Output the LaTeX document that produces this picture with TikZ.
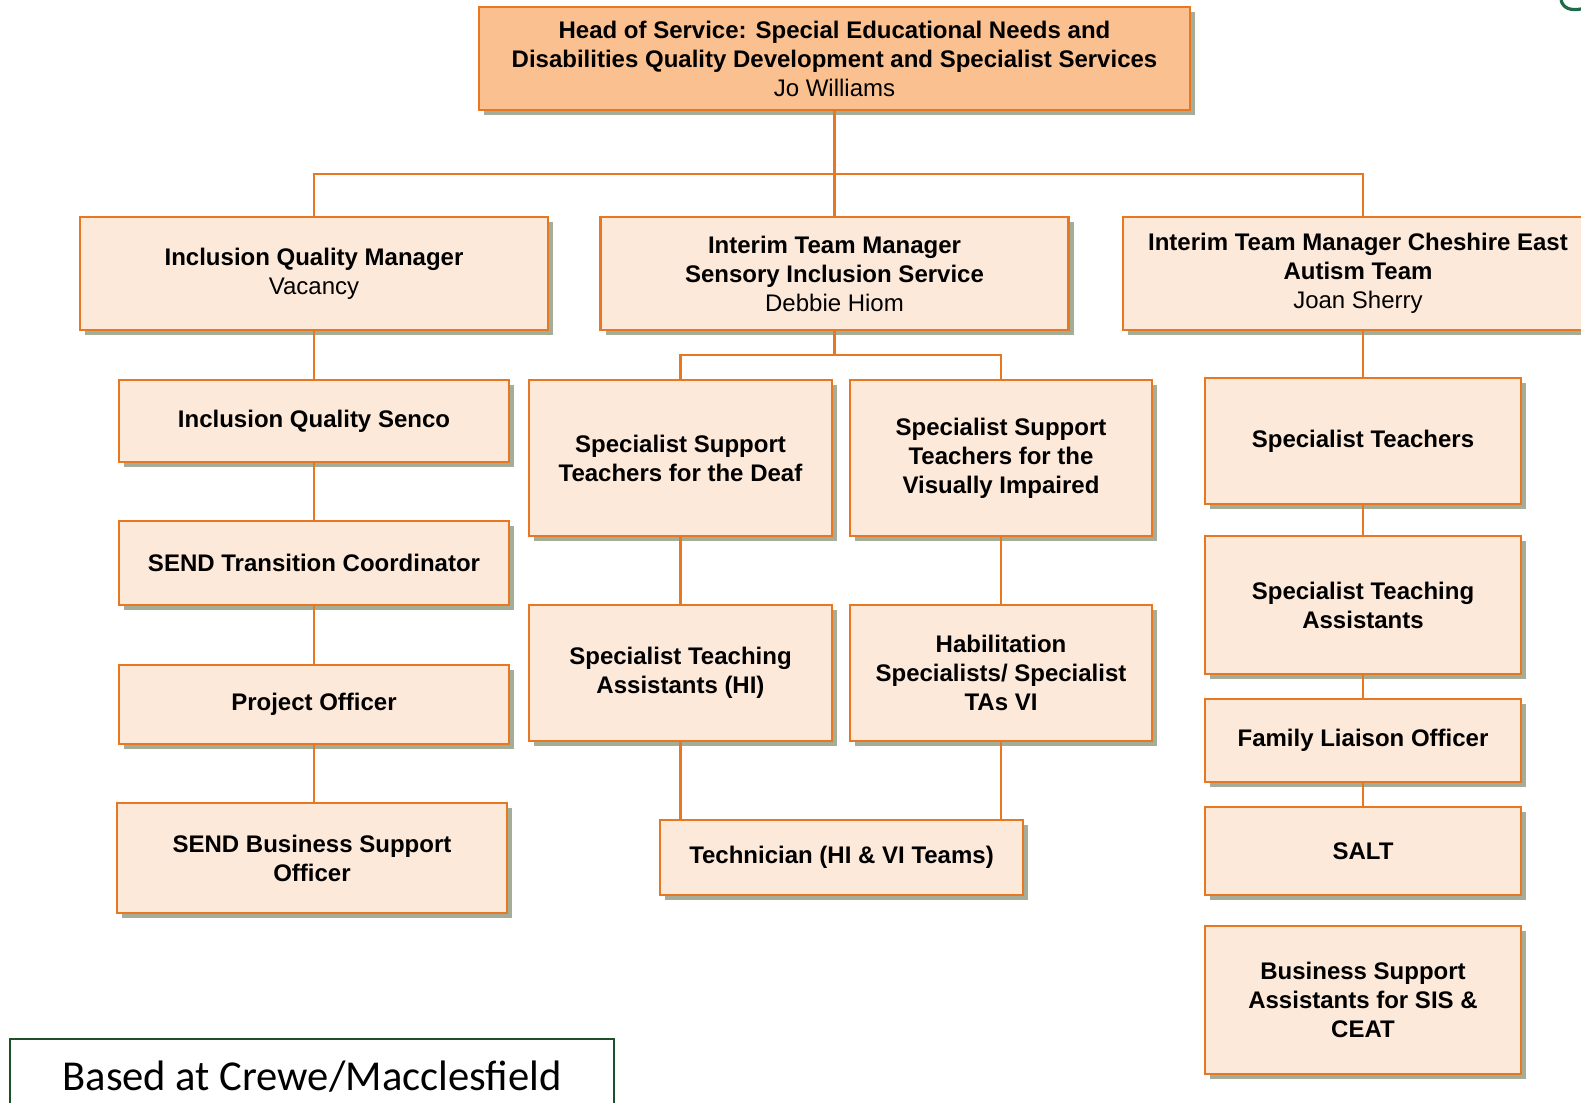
\documentclass[tikz,border=0pt]{standalone}
\usepackage{fontspec}
\newfontfamily\orgfont{Liberation Sans}
\newfontfamily\basedfont{Carlito}
\usetikzlibrary{shadows}
\definecolor{orgline}{HTML}{E87722}
\definecolor{headfill}{HTML}{FAC090}
\definecolor{boxfill}{HTML}{FDE9D9}
\definecolor{shadowgrey}{HTML}{A3AD97}
\definecolor{basedgreen}{HTML}{1F4E2C}
\definecolor{logogreen}{HTML}{1E6B4A}
\begin{document}
\begin{tikzpicture}[x=0.5pt,y=-0.5pt]
		\tikzstyle{orgbox}=[draw=orgline, line width=1.4pt, fill=boxfill, align=center, inner sep=2pt,
			font=\orgfont\fontsize{12}{14.5}\selectfont,
			drop shadow={shadow xshift=2.5pt, shadow yshift=-2.5pt, fill=shadowgrey, opacity=1}]
		\tikzstyle{link}=[draw=orgline, line width=1.1pt]
		\clip (0,0) rectangle (1581,1103);
		\fill [white] (0,0) rectangle (1581,1103);
		\node [orgbox, fill=headfill, minimum width=355.5pt, minimum height=51.5pt] (head) at (834.5,58.5) {\textbf{Head of Service: Special Educational Needs and}\\\textbf{Disabilities Quality Development and Specialist Services}\\Jo Williams};
		\node [orgbox, minimum width=234pt, minimum height=56.5pt] (iqm) at (314,273.5) {\textbf{Inclusion Quality Manager}\\Vacancy};
		\node [orgbox, minimum width=234pt, minimum height=56.5pt] (sis) at (834.5,273.5) {\textbf{Interim Team Manager}\\\textbf{Sensory Inclusion Service}\\Debbie Hiom};
		\node [orgbox, minimum width=235pt, minimum height=56.5pt] (asd) at (1358,273.5) {\textbf{Interim Team Manager Cheshire East}\\\textbf{Autism Team}\\Joan Sherry};
		\node [orgbox, minimum width=195pt, minimum height=41pt] (senco) at (314,421) {\textbf{Inclusion Quality Senco}};
		\node [orgbox, minimum width=195pt, minimum height=42pt] (trans) at (314,563) {\textbf{SEND Transition Coordinator}};
		\node [orgbox, minimum width=195pt, minimum height=39.5pt] (proj) at (314,704.5) {\textbf{Project Officer}};
		\node [orgbox, minimum width=195pt, minimum height=55pt] (bso) at (312,858) {\textbf{SEND Business Support}\\\textbf{Officer}};
		\node [orgbox, minimum width=151.5pt, minimum height=78pt] (deaf) at (680.5,458) {\textbf{Specialist Support}\\\textbf{Teachers for the Deaf}};
		\node [orgbox, minimum width=151pt, minimum height=78pt] (vi) at (1001,458) {\textbf{Specialist Support}\\\textbf{Teachers for the}\\\textbf{Visually Impaired}};
		\node [orgbox, minimum width=151.5pt, minimum height=68pt] (stahi) at (680.5,673) {\textbf{Specialist Teaching}\\\textbf{Assistants (HI)}};
		\node [orgbox, minimum width=151pt, minimum height=68pt] (hab) at (1001,673) {\textbf{Habilitation}\\\textbf{Specialists/ Specialist}\\\textbf{TAs VI}};
		\node [orgbox, minimum width=181.5pt, minimum height=37.5pt] (tech) at (841.5,857.5) {\textbf{Technician (HI \& VI Teams)}};
		\node [orgbox, minimum width=158pt, minimum height=63pt] (spt) at (1363,441) {\textbf{Specialist Teachers}};
		\node [orgbox, minimum width=158pt, minimum height=69pt] (sta) at (1363,605) {\textbf{Specialist Teaching}\\\textbf{Assistants}};
		\node [orgbox, minimum width=158pt, minimum height=41.5pt] (flo) at (1363,740.5) {\textbf{Family Liaison Officer}};
		\node [orgbox, minimum width=158pt, minimum height=44pt] (salt) at (1363,851) {\textbf{SALT}};
		\node [orgbox, minimum width=158pt, minimum height=74pt] (bsa) at (1363,1000) {\textbf{Business Support}\\\textbf{Assistants for SIS \&}\\\textbf{CEAT}};
		\node [draw=basedgreen, line width=0.9pt, fill=white, minimum width=302pt, minimum height=38pt, font=\basedfont\fontsize{21.3}{24}\selectfont] (based) at (312,1077) {Based at Crewe/Macclesfield};
		\coordinate (bus) at (834.5,174);
		\coordinate (subbus) at (834.5,355);
		\draw [link] (head.south) -- (sis.north);
		\draw [link] (iqm.north) |- (bus) -| (spt.north |- asd.north);
		\draw [link] (iqm.south) -- (senco.north);
		\draw [link] (senco.south) -- (trans.north);
		\draw [link] (trans.south) -- (proj.north);
		\draw [link] (proj.south) -- (bso.north -| proj.south);
		\draw [link] (sis.south) -- (subbus);
		\draw [link] (deaf.north) |- (subbus) -| (vi.north);
		\draw [link] (deaf.south) -- (stahi.north);
		\draw [link] (vi.south) -- (hab.north);
		\draw [link] (stahi.south) -- (stahi.south |- tech.north);
		\draw [link] (hab.south) -- (hab.south |- tech.north);
		\draw [link] (spt.north |- asd.south) -- (spt.north);
		\draw [link] (spt.south) -- (sta.north);
		\draw [link] (sta.south) -- (flo.north);
		\draw [link] (flo.south) -- (salt.north);
		\draw [logogreen, line width=1.6pt] (1561,0) .. controls (1563,8) and (1570,11) .. (1581,9);
	\end{tikzpicture}
\end{document}
